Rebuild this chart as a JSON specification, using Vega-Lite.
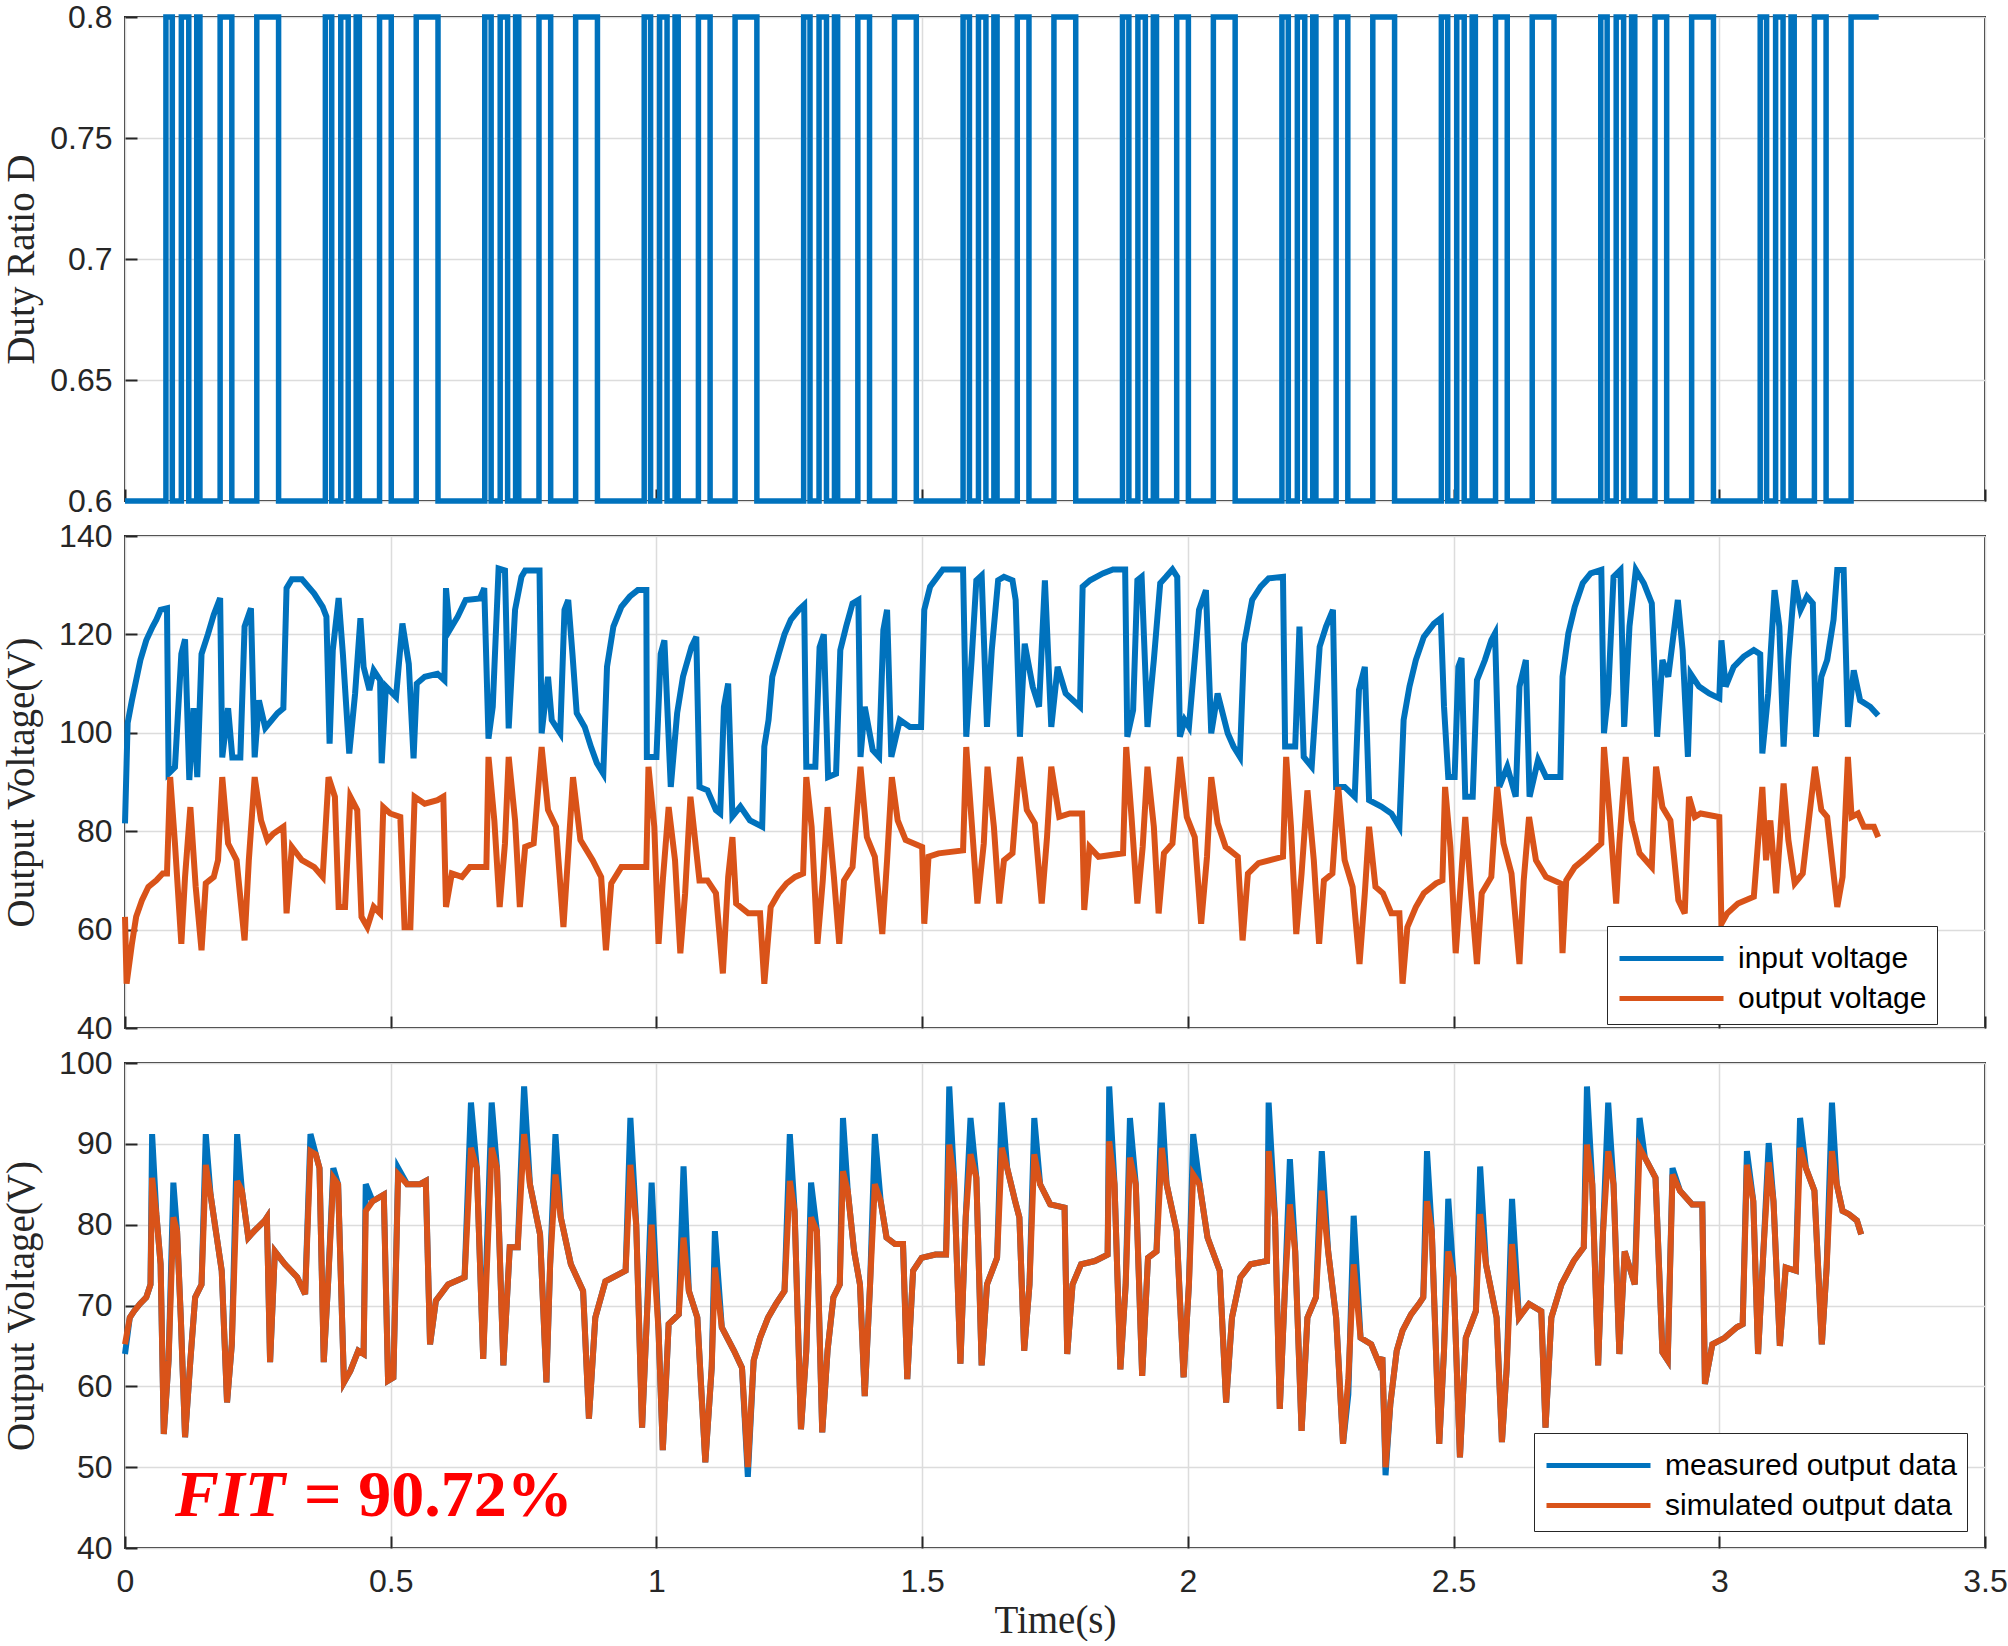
{
  "$schema": "https://vega.github.io/schema/vega-lite/v6.json",
  "background": "white",
  "padding": {"left": 0, "top": 0, "right": 20, "bottom": 0},
  "spacing": 35,
  "bounds": "flush",
  "config": {
    "view": {"stroke": "#262626", "strokeWidth": 2},
    "axis": {
      "labelFont": "Liberation Sans",
      "labelFontSize": 32,
      "labelColor": "#262626",
      "labelFlush": false,
      "titleFont": "Liberation Serif",
      "titleFontSize": 39,
      "titleFontWeight": "normal",
      "titleColor": "#262626",
      "gridColor": "#dcdcdc",
      "gridWidth": 1.5,
      "domain": false,
      "tickColor": "#262626",
      "tickSize": -12,
      "tickWidth": 2
    },
    "legend": {
      "labelFont": "Liberation Sans",
      "labelFontSize": 30,
      "labelColor": "#000000",
      "labelLimit": 0,
      "symbolType": "M-1,0H4.2",
      "symbolSize": 1600,
      "symbolStrokeWidth": 5,
      "strokeColor": "#262626",
      "fillColor": "white",
      "padding": 10,
      "rowPadding": 2,
      "labelOffset": 76
    }
  },
  "datasets": {
    "duty": [
      {"t": 0, "d": 0.6},
      {"t": 0.077, "d": 0.8}, {"t": 0.089, "d": 0.6}, {"t": 0.106, "d": 0.8}, {"t": 0.12, "d": 0.6}, {"t": 0.135, "d": 0.8}, {"t": 0.141, "d": 0.6}, {"t": 0.179, "d": 0.8}, {"t": 0.201, "d": 0.6}, {"t": 0.248, "d": 0.8}, {"t": 0.289, "d": 0.6},
      {"t": 0.377, "d": 0.8}, {"t": 0.389, "d": 0.6}, {"t": 0.406, "d": 0.8}, {"t": 0.42, "d": 0.6}, {"t": 0.435, "d": 0.8}, {"t": 0.441, "d": 0.6}, {"t": 0.479, "d": 0.8}, {"t": 0.501, "d": 0.6}, {"t": 0.548, "d": 0.8}, {"t": 0.589, "d": 0.6},
      {"t": 0.677, "d": 0.8}, {"t": 0.689, "d": 0.6}, {"t": 0.706, "d": 0.8}, {"t": 0.72, "d": 0.6}, {"t": 0.735, "d": 0.8}, {"t": 0.741, "d": 0.6}, {"t": 0.779, "d": 0.8}, {"t": 0.801, "d": 0.6}, {"t": 0.848, "d": 0.8}, {"t": 0.889, "d": 0.6},
      {"t": 0.977, "d": 0.8}, {"t": 0.989, "d": 0.6}, {"t": 1.006, "d": 0.8}, {"t": 1.02, "d": 0.6}, {"t": 1.035, "d": 0.8}, {"t": 1.041, "d": 0.6}, {"t": 1.079, "d": 0.8}, {"t": 1.101, "d": 0.6}, {"t": 1.148, "d": 0.8}, {"t": 1.189, "d": 0.6},
      {"t": 1.277, "d": 0.8}, {"t": 1.289, "d": 0.6}, {"t": 1.306, "d": 0.8}, {"t": 1.32, "d": 0.6}, {"t": 1.335, "d": 0.8}, {"t": 1.341, "d": 0.6}, {"t": 1.379, "d": 0.8}, {"t": 1.401, "d": 0.6}, {"t": 1.448, "d": 0.8}, {"t": 1.489, "d": 0.6},
      {"t": 1.577, "d": 0.8}, {"t": 1.589, "d": 0.6}, {"t": 1.606, "d": 0.8}, {"t": 1.62, "d": 0.6}, {"t": 1.635, "d": 0.8}, {"t": 1.641, "d": 0.6}, {"t": 1.679, "d": 0.8}, {"t": 1.701, "d": 0.6}, {"t": 1.748, "d": 0.8}, {"t": 1.789, "d": 0.6},
      {"t": 1.877, "d": 0.8}, {"t": 1.889, "d": 0.6}, {"t": 1.906, "d": 0.8}, {"t": 1.92, "d": 0.6}, {"t": 1.935, "d": 0.8}, {"t": 1.941, "d": 0.6}, {"t": 1.979, "d": 0.8}, {"t": 2.001, "d": 0.6}, {"t": 2.048, "d": 0.8}, {"t": 2.089, "d": 0.6},
      {"t": 2.177, "d": 0.8}, {"t": 2.189, "d": 0.6}, {"t": 2.206, "d": 0.8}, {"t": 2.22, "d": 0.6}, {"t": 2.235, "d": 0.8}, {"t": 2.241, "d": 0.6}, {"t": 2.279, "d": 0.8}, {"t": 2.301, "d": 0.6}, {"t": 2.348, "d": 0.8}, {"t": 2.389, "d": 0.6},
      {"t": 2.477, "d": 0.8}, {"t": 2.489, "d": 0.6}, {"t": 2.506, "d": 0.8}, {"t": 2.52, "d": 0.6}, {"t": 2.535, "d": 0.8}, {"t": 2.541, "d": 0.6}, {"t": 2.579, "d": 0.8}, {"t": 2.601, "d": 0.6}, {"t": 2.648, "d": 0.8}, {"t": 2.689, "d": 0.6},
      {"t": 2.777, "d": 0.8}, {"t": 2.789, "d": 0.6}, {"t": 2.806, "d": 0.8}, {"t": 2.82, "d": 0.6}, {"t": 2.835, "d": 0.8}, {"t": 2.841, "d": 0.6}, {"t": 2.879, "d": 0.8}, {"t": 2.901, "d": 0.6}, {"t": 2.948, "d": 0.8}, {"t": 2.989, "d": 0.6},
      {"t": 3.077, "d": 0.8}, {"t": 3.089, "d": 0.6}, {"t": 3.106, "d": 0.8}, {"t": 3.12, "d": 0.6}, {"t": 3.135, "d": 0.8}, {"t": 3.141, "d": 0.6}, {"t": 3.179, "d": 0.8}, {"t": 3.201, "d": 0.6}, {"t": 3.248, "d": 0.8}, {"t": 3.3, "d": 0.8}
    ],
    "vin": [
      {"t": 0, "v": 81.6}, {"t": 0.005, "v": 102}, {"t": 0.013, "v": 106.6}, {"t": 0.021, "v": 110.7}, {"t": 0.029, "v": 114.8}, {"t": 0.04, "v": 118.8}, {"t": 0.052, "v": 121.6}, {"t": 0.059, "v": 123}, {"t": 0.067, "v": 125}, {"t": 0.079, "v": 125.3},
      {"t": 0.082, "v": 91.7}, {"t": 0.094, "v": 93}, {"t": 0.106, "v": 116}, {"t": 0.113, "v": 119}, {"t": 0.121, "v": 90.4}, {"t": 0.129, "v": 105}, {"t": 0.136, "v": 91}, {"t": 0.144, "v": 116}, {"t": 0.156, "v": 120}, {"t": 0.167, "v": 124},
      {"t": 0.179, "v": 127.4}, {"t": 0.183, "v": 95}, {"t": 0.194, "v": 105}, {"t": 0.202, "v": 95}, {"t": 0.217, "v": 95}, {"t": 0.225, "v": 121.6}, {"t": 0.237, "v": 125.3}, {"t": 0.244, "v": 95}, {"t": 0.252, "v": 106.6}, {"t": 0.264, "v": 101},
      {"t": 0.287, "v": 104}, {"t": 0.298, "v": 105}, {"t": 0.304, "v": 129.4}, {"t": 0.314, "v": 131.2}, {"t": 0.333, "v": 131.2}, {"t": 0.356, "v": 128.3}, {"t": 0.372, "v": 125.6}, {"t": 0.379, "v": 123.6}, {"t": 0.385, "v": 97.8}, {"t": 0.391, "v": 116.8},
      {"t": 0.402, "v": 127.4}, {"t": 0.41, "v": 116}, {"t": 0.422, "v": 95.8}, {"t": 0.433, "v": 108}, {"t": 0.443, "v": 123.3}, {"t": 0.449, "v": 113.4}, {"t": 0.46, "v": 108.7}, {"t": 0.468, "v": 112.7}, {"t": 0.48, "v": 110.7}, {"t": 0.483, "v": 93.8},
      {"t": 0.491, "v": 109.4}, {"t": 0.51, "v": 107.3}, {"t": 0.522, "v": 122.2}, {"t": 0.534, "v": 114}, {"t": 0.543, "v": 94.8}, {"t": 0.549, "v": 110}, {"t": 0.564, "v": 111.4}, {"t": 0.588, "v": 112}, {"t": 0.601, "v": 110.7}, {"t": 0.604, "v": 129.4},
      {"t": 0.611, "v": 120.9}, {"t": 0.626, "v": 123.6}, {"t": 0.641, "v": 127}, {"t": 0.668, "v": 127.3}, {"t": 0.676, "v": 129.4}, {"t": 0.684, "v": 98.8}, {"t": 0.692, "v": 105.3}, {"t": 0.703, "v": 133.4}, {"t": 0.715, "v": 133}, {"t": 0.722, "v": 100.9},
      {"t": 0.734, "v": 125}, {"t": 0.746, "v": 131.7}, {"t": 0.753, "v": 133}, {"t": 0.78, "v": 133}, {"t": 0.784, "v": 99.9}, {"t": 0.796, "v": 111.4}, {"t": 0.803, "v": 102.6}, {"t": 0.819, "v": 99.9}, {"t": 0.827, "v": 125}, {"t": 0.834, "v": 127},
      {"t": 0.842, "v": 116}, {"t": 0.85, "v": 104}, {"t": 0.865, "v": 101.2}, {"t": 0.877, "v": 97.1}, {"t": 0.888, "v": 93.8}, {"t": 0.9, "v": 91.7}, {"t": 0.907, "v": 113.4}, {"t": 0.919, "v": 121.6}, {"t": 0.934, "v": 125.6}, {"t": 0.95, "v": 127.7},
      {"t": 0.965, "v": 129}, {"t": 0.981, "v": 129}, {"t": 0.982, "v": 95.1}, {"t": 1.0, "v": 95.1}, {"t": 1.008, "v": 116}, {"t": 1.015, "v": 118.8}, {"t": 1.027, "v": 89}, {"t": 1.039, "v": 104}, {"t": 1.05, "v": 111.4}, {"t": 1.066, "v": 117.5},
      {"t": 1.075, "v": 119.5}, {"t": 1.081, "v": 89}, {"t": 1.096, "v": 88.3}, {"t": 1.112, "v": 84.3}, {"t": 1.12, "v": 83.6}, {"t": 1.127, "v": 105.3}, {"t": 1.135, "v": 110}, {"t": 1.143, "v": 83}, {"t": 1.158, "v": 85},
      {"t": 1.176, "v": 82.2}, {"t": 1.199, "v": 80.9}, {"t": 1.203, "v": 97.2}, {"t": 1.211, "v": 102.6}, {"t": 1.218, "v": 111.4}, {"t": 1.23, "v": 116}, {"t": 1.241, "v": 120}, {"t": 1.253, "v": 123}, {"t": 1.268, "v": 125}, {"t": 1.278, "v": 126},
      {"t": 1.282, "v": 93.1}, {"t": 1.299, "v": 93.1}, {"t": 1.307, "v": 117.4}, {"t": 1.315, "v": 120}, {"t": 1.323, "v": 91}, {"t": 1.338, "v": 91.7}, {"t": 1.346, "v": 116.8}, {"t": 1.357, "v": 121.6}, {"t": 1.369, "v": 126.3}, {"t": 1.38, "v": 127},
      {"t": 1.384, "v": 95.1}, {"t": 1.392, "v": 105.3}, {"t": 1.407, "v": 96.5}, {"t": 1.419, "v": 95.1}, {"t": 1.427, "v": 120.9}, {"t": 1.434, "v": 125}, {"t": 1.442, "v": 95.1}, {"t": 1.458, "v": 102.6}, {"t": 1.477, "v": 101.2}, {"t": 1.498, "v": 101.2},
      {"t": 1.504, "v": 125}, {"t": 1.515, "v": 129.7}, {"t": 1.539, "v": 133.2}, {"t": 1.577, "v": 133.2}, {"t": 1.583, "v": 99.2}, {"t": 1.593, "v": 114.8}, {"t": 1.602, "v": 131}, {"t": 1.612, "v": 132}, {"t": 1.622, "v": 101.2}, {"t": 1.631, "v": 116.8},
      {"t": 1.643, "v": 131}, {"t": 1.654, "v": 131.7}, {"t": 1.67, "v": 131}, {"t": 1.676, "v": 127}, {"t": 1.684, "v": 99.2}, {"t": 1.693, "v": 118.1}, {"t": 1.708, "v": 109.4}, {"t": 1.72, "v": 105.3}, {"t": 1.724, "v": 114.8}, {"t": 1.731, "v": 131},
      {"t": 1.743, "v": 101.2}, {"t": 1.755, "v": 113.4}, {"t": 1.77, "v": 108}, {"t": 1.797, "v": 105.3}, {"t": 1.802, "v": 129.7}, {"t": 1.816, "v": 131}, {"t": 1.84, "v": 132.4}, {"t": 1.859, "v": 133.2}, {"t": 1.882, "v": 133.2}, {"t": 1.886, "v": 99.2},
      {"t": 1.897, "v": 104.6}, {"t": 1.905, "v": 131}, {"t": 1.913, "v": 131.7}, {"t": 1.924, "v": 101.2}, {"t": 1.936, "v": 114.8}, {"t": 1.948, "v": 130.4}, {"t": 1.959, "v": 131.7}, {"t": 1.971, "v": 133.2}, {"t": 1.98, "v": 131.7}, {"t": 1.985, "v": 99.2},
      {"t": 1.994, "v": 102.6}, {"t": 2.002, "v": 101.2}, {"t": 2.021, "v": 125}, {"t": 2.034, "v": 129}, {"t": 2.044, "v": 99.9}, {"t": 2.056, "v": 108}, {"t": 2.075, "v": 99.9}, {"t": 2.086, "v": 97.2}, {"t": 2.098, "v": 95.1}, {"t": 2.106, "v": 118.1},
      {"t": 2.121, "v": 127}, {"t": 2.137, "v": 129.7}, {"t": 2.152, "v": 131.4}, {"t": 2.179, "v": 131.7}, {"t": 2.183, "v": 97.2}, {"t": 2.202, "v": 97.2}, {"t": 2.21, "v": 121.6}, {"t": 2.218, "v": 95.1}, {"t": 2.233, "v": 93.1}, {"t": 2.248, "v": 117.5},
      {"t": 2.26, "v": 121.6}, {"t": 2.273, "v": 125}, {"t": 2.279, "v": 89}, {"t": 2.295, "v": 89}, {"t": 2.314, "v": 87}, {"t": 2.322, "v": 108.7}, {"t": 2.333, "v": 113.4}, {"t": 2.341, "v": 86.3}, {"t": 2.364, "v": 85},
      {"t": 2.383, "v": 83.6}, {"t": 2.398, "v": 80.9}, {"t": 2.406, "v": 102.6}, {"t": 2.417, "v": 109.4}, {"t": 2.429, "v": 114.8}, {"t": 2.444, "v": 119.5}, {"t": 2.463, "v": 122.2}, {"t": 2.476, "v": 123.3}, {"t": 2.482, "v": 105.3}, {"t": 2.49, "v": 91},
      {"t": 2.502, "v": 91}, {"t": 2.509, "v": 113.4}, {"t": 2.515, "v": 115.2}, {"t": 2.522, "v": 87}, {"t": 2.536, "v": 87}, {"t": 2.544, "v": 110.7}, {"t": 2.559, "v": 114.8}, {"t": 2.571, "v": 118.8}, {"t": 2.578, "v": 120.2}, {"t": 2.586, "v": 89},
      {"t": 2.601, "v": 93.1}, {"t": 2.617, "v": 87}, {"t": 2.624, "v": 109.4}, {"t": 2.636, "v": 114.8}, {"t": 2.643, "v": 87}, {"t": 2.659, "v": 94.5}, {"t": 2.674, "v": 91}, {"t": 2.701, "v": 91}, {"t": 2.705, "v": 111.4}, {"t": 2.716, "v": 120.2},
      {"t": 2.728, "v": 125.6}, {"t": 2.743, "v": 130.4}, {"t": 2.758, "v": 132.4}, {"t": 2.778, "v": 133.1}, {"t": 2.783, "v": 99.9}, {"t": 2.791, "v": 108}, {"t": 2.801, "v": 131.7}, {"t": 2.814, "v": 133.1}, {"t": 2.821, "v": 101.2}, {"t": 2.831, "v": 121.6},
      {"t": 2.843, "v": 133.1}, {"t": 2.858, "v": 130.4}, {"t": 2.873, "v": 126.3}, {"t": 2.883, "v": 99.2}, {"t": 2.893, "v": 114.8}, {"t": 2.904, "v": 111.4}, {"t": 2.922, "v": 127}, {"t": 2.931, "v": 116.8}, {"t": 2.941, "v": 95.1}, {"t": 2.946, "v": 112},
      {"t": 2.962, "v": 109.4}, {"t": 2.981, "v": 108}, {"t": 3.0, "v": 107}, {"t": 3.004, "v": 118.8}, {"t": 3.012, "v": 109.4}, {"t": 3.027, "v": 113.4}, {"t": 3.046, "v": 115.5}, {"t": 3.065, "v": 116.8}, {"t": 3.077, "v": 116}, {"t": 3.081, "v": 95.8},
      {"t": 3.092, "v": 108}, {"t": 3.104, "v": 129}, {"t": 3.113, "v": 121.6}, {"t": 3.121, "v": 97.2}, {"t": 3.13, "v": 114.8}, {"t": 3.142, "v": 131}, {"t": 3.153, "v": 125}, {"t": 3.165, "v": 127.7}, {"t": 3.176, "v": 126.3}, {"t": 3.182, "v": 99.2},
      {"t": 3.192, "v": 111.4}, {"t": 3.203, "v": 114.8}, {"t": 3.215, "v": 123}, {"t": 3.222, "v": 133.1}, {"t": 3.234, "v": 133.1}, {"t": 3.242, "v": 101.2}, {"t": 3.253, "v": 112.7}, {"t": 3.265, "v": 106.6}, {"t": 3.284, "v": 105.3}, {"t": 3.299, "v": 103.5}
    ],
    "vout": [
      {"t": 0, "v": 62.6}, {"t": 0.003, "v": 49}, {"t": 0.013, "v": 57.1}, {"t": 0.021, "v": 62.6}, {"t": 0.032, "v": 66}, {"t": 0.044, "v": 68.7}, {"t": 0.059, "v": 70}, {"t": 0.071, "v": 71.4}, {"t": 0.079, "v": 71.4}, {"t": 0.085, "v": 91},
      {"t": 0.094, "v": 77.5}, {"t": 0.106, "v": 57.1}, {"t": 0.113, "v": 70.7}, {"t": 0.123, "v": 84.9}, {"t": 0.133, "v": 68.7}, {"t": 0.144, "v": 55.8}, {"t": 0.152, "v": 69.4}, {"t": 0.167, "v": 70.7}, {"t": 0.175, "v": 74.1}, {"t": 0.183, "v": 91},
      {"t": 0.194, "v": 77.5}, {"t": 0.21, "v": 74.1}, {"t": 0.225, "v": 57.8}, {"t": 0.233, "v": 74.1}, {"t": 0.244, "v": 91}, {"t": 0.256, "v": 82.2}, {"t": 0.268, "v": 78.2}, {"t": 0.279, "v": 79.5}, {"t": 0.298, "v": 80.9}, {"t": 0.304, "v": 63.3},
      {"t": 0.314, "v": 76.8}, {"t": 0.333, "v": 74.1}, {"t": 0.356, "v": 72.7}, {"t": 0.372, "v": 70.7}, {"t": 0.383, "v": 91}, {"t": 0.395, "v": 87}, {"t": 0.402, "v": 64.6}, {"t": 0.414, "v": 64.6}, {"t": 0.424, "v": 87}, {"t": 0.437, "v": 84.3},
      {"t": 0.445, "v": 62.6}, {"t": 0.456, "v": 60.5}, {"t": 0.468, "v": 64.6}, {"t": 0.48, "v": 63.3}, {"t": 0.486, "v": 84.9}, {"t": 0.499, "v": 83.6}, {"t": 0.518, "v": 82.9}, {"t": 0.526, "v": 60.5}, {"t": 0.537, "v": 60.5}, {"t": 0.545, "v": 87},
      {"t": 0.564, "v": 85.6}, {"t": 0.588, "v": 86.3}, {"t": 0.599, "v": 87}, {"t": 0.604, "v": 64.6}, {"t": 0.615, "v": 71.4}, {"t": 0.634, "v": 70.7}, {"t": 0.649, "v": 72.7}, {"t": 0.68, "v": 72.7}, {"t": 0.684, "v": 95.1}, {"t": 0.695, "v": 82.2},
      {"t": 0.705, "v": 64.6}, {"t": 0.715, "v": 77.5}, {"t": 0.722, "v": 95.1}, {"t": 0.734, "v": 82.2}, {"t": 0.743, "v": 64.6}, {"t": 0.753, "v": 76.8}, {"t": 0.769, "v": 77.5}, {"t": 0.784, "v": 97.1}, {"t": 0.796, "v": 84.3}, {"t": 0.811, "v": 80.9},
      {"t": 0.825, "v": 60.5}, {"t": 0.834, "v": 75.5}, {"t": 0.843, "v": 91}, {"t": 0.857, "v": 78.2}, {"t": 0.88, "v": 74.1}, {"t": 0.896, "v": 70.7}, {"t": 0.905, "v": 55.8}, {"t": 0.915, "v": 69.4}, {"t": 0.934, "v": 72.7}, {"t": 0.981, "v": 72.7},
      {"t": 0.985, "v": 93.1}, {"t": 0.996, "v": 80.9}, {"t": 1.004, "v": 57.1}, {"t": 1.012, "v": 70}, {"t": 1.023, "v": 84.9}, {"t": 1.035, "v": 74.1}, {"t": 1.045, "v": 55.2}, {"t": 1.054, "v": 67.4}, {"t": 1.064, "v": 87}, {"t": 1.081, "v": 70},
      {"t": 1.096, "v": 70}, {"t": 1.112, "v": 67.4}, {"t": 1.125, "v": 51.1}, {"t": 1.135, "v": 70.7}, {"t": 1.143, "v": 78.8}, {"t": 1.15, "v": 65.3}, {"t": 1.173, "v": 63.3},
      {"t": 1.195, "v": 63.3}, {"t": 1.203, "v": 49}, {"t": 1.215, "v": 64.6}, {"t": 1.23, "v": 67.4}, {"t": 1.245, "v": 69.4}, {"t": 1.261, "v": 70.7}, {"t": 1.276, "v": 71.4}, {"t": 1.282, "v": 91}, {"t": 1.292, "v": 80.9}, {"t": 1.303, "v": 57.1},
      {"t": 1.313, "v": 70}, {"t": 1.322, "v": 84.9}, {"t": 1.334, "v": 70.7}, {"t": 1.344, "v": 57.1}, {"t": 1.353, "v": 70}, {"t": 1.369, "v": 72.7}, {"t": 1.384, "v": 93.1}, {"t": 1.396, "v": 78.8}, {"t": 1.411, "v": 74.8}, {"t": 1.425, "v": 59.1},
      {"t": 1.434, "v": 74.1}, {"t": 1.443, "v": 91}, {"t": 1.454, "v": 82.2}, {"t": 1.469, "v": 78.2}, {"t": 1.5, "v": 76.8}, {"t": 1.504, "v": 61.2}, {"t": 1.512, "v": 74.8}, {"t": 1.531, "v": 75.5}, {"t": 1.577, "v": 76.1}, {"t": 1.583, "v": 97.1},
      {"t": 1.593, "v": 82.2}, {"t": 1.604, "v": 65.3}, {"t": 1.616, "v": 77.5}, {"t": 1.623, "v": 93.1}, {"t": 1.635, "v": 80.9}, {"t": 1.645, "v": 65.3}, {"t": 1.654, "v": 74.1}, {"t": 1.67, "v": 75.5}, {"t": 1.684, "v": 95.1}, {"t": 1.697, "v": 84.3},
      {"t": 1.712, "v": 81.6}, {"t": 1.725, "v": 65.3}, {"t": 1.735, "v": 78.8}, {"t": 1.743, "v": 93.1}, {"t": 1.758, "v": 82.9}, {"t": 1.778, "v": 83.6}, {"t": 1.801, "v": 83.6}, {"t": 1.805, "v": 64}, {"t": 1.815, "v": 76.8}, {"t": 1.832, "v": 74.8},
      {"t": 1.878, "v": 75.5}, {"t": 1.884, "v": 97.1}, {"t": 1.894, "v": 82.9}, {"t": 1.905, "v": 65.3}, {"t": 1.915, "v": 76.8}, {"t": 1.924, "v": 93.1}, {"t": 1.936, "v": 80.9}, {"t": 1.945, "v": 63.3}, {"t": 1.955, "v": 75.5}, {"t": 1.971, "v": 77.5},
      {"t": 1.985, "v": 95.1}, {"t": 1.998, "v": 82.9}, {"t": 2.013, "v": 78.8}, {"t": 2.025, "v": 61.2}, {"t": 2.036, "v": 74.8}, {"t": 2.044, "v": 91}, {"t": 2.056, "v": 81.6}, {"t": 2.071, "v": 76.8}, {"t": 2.094, "v": 74.8}, {"t": 2.103, "v": 57.8},
      {"t": 2.113, "v": 71.4}, {"t": 2.133, "v": 73.5}, {"t": 2.179, "v": 74.8}, {"t": 2.185, "v": 95.1}, {"t": 2.194, "v": 80.9}, {"t": 2.204, "v": 59.1}, {"t": 2.214, "v": 71.4}, {"t": 2.225, "v": 88.3}, {"t": 2.237, "v": 74.1}, {"t": 2.247, "v": 57.1},
      {"t": 2.256, "v": 70}, {"t": 2.272, "v": 71.4}, {"t": 2.283, "v": 89}, {"t": 2.295, "v": 74.1}, {"t": 2.31, "v": 68.7}, {"t": 2.323, "v": 53}, {"t": 2.333, "v": 67.4}, {"t": 2.341, "v": 80.9}, {"t": 2.353, "v": 68.7},
      {"t": 2.367, "v": 67.4}, {"t": 2.383, "v": 63.3}, {"t": 2.398, "v": 63.3}, {"t": 2.404, "v": 49}, {"t": 2.413, "v": 60.5}, {"t": 2.429, "v": 64.6}, {"t": 2.444, "v": 67.4}, {"t": 2.467, "v": 69.4}, {"t": 2.479, "v": 70}, {"t": 2.484, "v": 89},
      {"t": 2.494, "v": 76.8}, {"t": 2.504, "v": 55.2}, {"t": 2.513, "v": 68.7}, {"t": 2.522, "v": 82.9}, {"t": 2.532, "v": 68.7}, {"t": 2.544, "v": 53}, {"t": 2.553, "v": 67.4}, {"t": 2.571, "v": 70.7}, {"t": 2.582, "v": 89}, {"t": 2.594, "v": 77.5},
      {"t": 2.609, "v": 71.4}, {"t": 2.624, "v": 53}, {"t": 2.632, "v": 70}, {"t": 2.642, "v": 82.9}, {"t": 2.655, "v": 74.1}, {"t": 2.674, "v": 70.7}, {"t": 2.701, "v": 69.4}, {"t": 2.705, "v": 55.2}, {"t": 2.712, "v": 70}, {"t": 2.728, "v": 72.7},
      {"t": 2.751, "v": 74.8}, {"t": 2.778, "v": 77.5}, {"t": 2.783, "v": 97.1}, {"t": 2.793, "v": 84.3}, {"t": 2.806, "v": 65.3}, {"t": 2.812, "v": 77.5}, {"t": 2.824, "v": 95.1}, {"t": 2.835, "v": 82.2}, {"t": 2.85, "v": 75.5}, {"t": 2.873, "v": 72.7},
      {"t": 2.881, "v": 93.1}, {"t": 2.893, "v": 84.9}, {"t": 2.908, "v": 82.2}, {"t": 2.923, "v": 66}, {"t": 2.935, "v": 63.3}, {"t": 2.943, "v": 87}, {"t": 2.954, "v": 82.9}, {"t": 2.965, "v": 83.6}, {"t": 3.0, "v": 82.9}, {"t": 3.004, "v": 61.2},
      {"t": 3.015, "v": 63.3}, {"t": 3.035, "v": 65.3}, {"t": 3.065, "v": 66.7}, {"t": 3.081, "v": 89}, {"t": 3.088, "v": 74.1}, {"t": 3.096, "v": 82.2}, {"t": 3.107, "v": 67.4}, {"t": 3.121, "v": 89.7}, {"t": 3.13, "v": 78.2}, {"t": 3.142, "v": 69.4},
      {"t": 3.157, "v": 71.4}, {"t": 3.18, "v": 93.1}, {"t": 3.192, "v": 84.3}, {"t": 3.203, "v": 82.9}, {"t": 3.222, "v": 64.6}, {"t": 3.232, "v": 70.7}, {"t": 3.242, "v": 95.1}, {"t": 3.249, "v": 82.9}, {"t": 3.261, "v": 83.6}, {"t": 3.272, "v": 80.9},
      {"t": 3.291, "v": 80.9}, {"t": 3.299, "v": 78.8}
    ],
    "fit": [
      {"t": 0, "m": 64, "s": 65.2}, {"t": 0.009, "m": 68.5, "s": 68.5}, {"t": 0.017, "m": 69.3, "s": 69.3}, {"t": 0.028, "m": 70.2, "s": 70.2}, {"t": 0.04, "m": 71, "s": 71}, {"t": 0.048, "m": 72.6, "s": 72.6}, {"t": 0.051, "m": 91.2, "s": 85.8}, {"t": 0.059, "m": 81.3, "s": 81.3},
      {"t": 0.067, "m": 75.1, "s": 75.1}, {"t": 0.073, "m": 54.1, "s": 54.1}, {"t": 0.082, "m": 63.2, "s": 63.2}, {"t": 0.091, "m": 85.2, "s": 80.9}, {"t": 0.098, "m": 79.2, "s": 79.2}, {"t": 0.105, "m": 68.5, "s": 68.5}, {"t": 0.113, "m": 53.7, "s": 53.7}, {"t": 0.123, "m": 63.2, "s": 63.2},
      {"t": 0.132, "m": 71, "s": 71}, {"t": 0.144, "m": 72.6, "s": 72.6}, {"t": 0.152, "m": 91.2, "s": 87.4}, {"t": 0.161, "m": 83.7, "s": 83.7}, {"t": 0.171, "m": 79.2, "s": 79.2}, {"t": 0.182, "m": 74.3, "s": 74.3}, {"t": 0.192, "m": 58, "s": 58}, {"t": 0.201, "m": 65.2, "s": 65.2},
      {"t": 0.211, "m": 91.2, "s": 85.4}, {"t": 0.22, "m": 84.2, "s": 84.2}, {"t": 0.232, "m": 78.4, "s": 78.4}, {"t": 0.243, "m": 79.2, "s": 79.2}, {"t": 0.263, "m": 80.5, "s": 80.5}, {"t": 0.267, "m": 80.9, "s": 80.9}, {"t": 0.273, "m": 63, "s": 63}, {"t": 0.282, "m": 76.7, "s": 76.7},
      {"t": 0.301, "m": 75.1, "s": 75.1}, {"t": 0.324, "m": 73.5, "s": 73.5}, {"t": 0.339, "m": 71.4, "s": 71.4}, {"t": 0.349, "m": 91.2, "s": 89.1}, {"t": 0.359, "m": 88.7, "s": 88.7}, {"t": 0.366, "m": 87, "s": 87}, {"t": 0.374, "m": 63, "s": 63}, {"t": 0.382, "m": 72.6, "s": 72.6},
      {"t": 0.392, "m": 87, "s": 85.8}, {"t": 0.401, "m": 85, "s": 85}, {"t": 0.412, "m": 60.5, "s": 60.5}, {"t": 0.424, "m": 61.9, "s": 61.9}, {"t": 0.439, "m": 64.4, "s": 64.4}, {"t": 0.449, "m": 64, "s": 64}, {"t": 0.453, "m": 85, "s": 81.7}, {"t": 0.466, "m": 82.9, "s": 82.9},
      {"t": 0.487, "m": 83.7, "s": 83.7}, {"t": 0.495, "m": 60.7, "s": 60.7}, {"t": 0.505, "m": 61.1, "s": 61.1}, {"t": 0.514, "m": 87, "s": 86.2}, {"t": 0.531, "m": 85, "s": 85}, {"t": 0.555, "m": 85, "s": 85}, {"t": 0.566, "m": 85.4, "s": 85.4}, {"t": 0.574, "m": 65.2, "s": 65.2},
      {"t": 0.585, "m": 70.6, "s": 70.6}, {"t": 0.608, "m": 72.6, "s": 72.6}, {"t": 0.639, "m": 73.5, "s": 73.5}, {"t": 0.651, "m": 95.1, "s": 89.5}, {"t": 0.662, "m": 87, "s": 87}, {"t": 0.674, "m": 63.4, "s": 63.4}, {"t": 0.69, "m": 95.1, "s": 89.5}, {"t": 0.7, "m": 87, "s": 87},
      {"t": 0.712, "m": 62.6, "s": 62.6}, {"t": 0.724, "m": 77.2, "s": 77.2}, {"t": 0.739, "m": 77.2, "s": 77.2}, {"t": 0.751, "m": 97.1, "s": 91.2}, {"t": 0.762, "m": 85, "s": 85}, {"t": 0.781, "m": 78.8, "s": 78.8}, {"t": 0.793, "m": 60.5, "s": 60.5}, {"t": 0.8, "m": 75.1, "s": 75.1},
      {"t": 0.81, "m": 91.2, "s": 86.2}, {"t": 0.82, "m": 80.9, "s": 80.9}, {"t": 0.839, "m": 75.1, "s": 75.1}, {"t": 0.862, "m": 71.8, "s": 71.8}, {"t": 0.873, "m": 56, "s": 56}, {"t": 0.885, "m": 68.5, "s": 68.5}, {"t": 0.904, "m": 73, "s": 73}, {"t": 0.942, "m": 74.3, "s": 74.3},
      {"t": 0.951, "m": 93.2, "s": 87.4}, {"t": 0.962, "m": 80, "s": 80}, {"t": 0.973, "m": 54.9, "s": 54.9}, {"t": 0.982, "m": 68.5, "s": 68.5}, {"t": 0.991, "m": 85.2, "s": 80}, {"t": 1.004, "m": 66.9, "s": 66.9}, {"t": 1.012, "m": 52.1, "s": 52.1}, {"t": 1.023, "m": 67.7, "s": 67.7},
      {"t": 1.042, "m": 68.9, "s": 68.9}, {"t": 1.051, "m": 87.2, "s": 78.4}, {"t": 1.061, "m": 71.8, "s": 71.8}, {"t": 1.077, "m": 68.5, "s": 68.5}, {"t": 1.092, "m": 50.6, "s": 50.6}, {"t": 1.104, "m": 62.3, "s": 62.3}, {"t": 1.11, "m": 79.2, "s": 74.7}, {"t": 1.123, "m": 67.3, "s": 67.3},
      {"t": 1.146, "m": 64.4, "s": 64.4}, {"t": 1.161, "m": 62.3, "s": 62.3}, {"t": 1.172, "m": 48.8, "s": 50}, {"t": 1.183, "m": 63.2, "s": 63.2}, {"t": 1.195, "m": 66, "s": 66}, {"t": 1.21, "m": 68.5, "s": 68.5}, {"t": 1.225, "m": 70.2, "s": 70.2}, {"t": 1.241, "m": 71.8, "s": 71.8},
      {"t": 1.251, "m": 91.2, "s": 85.4}, {"t": 1.26, "m": 81.7, "s": 81.7}, {"t": 1.272, "m": 54.7, "s": 54.7}, {"t": 1.282, "m": 64.4, "s": 64.4}, {"t": 1.291, "m": 85.2, "s": 80.9}, {"t": 1.302, "m": 79.2, "s": 79.2}, {"t": 1.312, "m": 54.3, "s": 54.3}, {"t": 1.322, "m": 64.4, "s": 64.4},
      {"t": 1.333, "m": 71, "s": 71}, {"t": 1.345, "m": 72.6, "s": 72.6}, {"t": 1.351, "m": 93.2, "s": 86.6}, {"t": 1.36, "m": 84.2, "s": 84.2}, {"t": 1.372, "m": 76.7, "s": 76.7}, {"t": 1.383, "m": 72.6, "s": 72.6}, {"t": 1.392, "m": 58.8, "s": 58.8}, {"t": 1.402, "m": 72.6, "s": 72.6},
      {"t": 1.411, "m": 91.2, "s": 85}, {"t": 1.422, "m": 82.9, "s": 82.9}, {"t": 1.433, "m": 78.4, "s": 78.4}, {"t": 1.449, "m": 77.6, "s": 77.6}, {"t": 1.464, "m": 77.6, "s": 77.6}, {"t": 1.472, "m": 60.9, "s": 60.9}, {"t": 1.483, "m": 74.3, "s": 74.3}, {"t": 1.499, "m": 75.9, "s": 75.9},
      {"t": 1.525, "m": 76.3, "s": 76.3}, {"t": 1.545, "m": 76.3, "s": 76.3}, {"t": 1.551, "m": 97.1, "s": 89.9}, {"t": 1.56, "m": 85.8, "s": 85.8}, {"t": 1.572, "m": 62.8, "s": 62.8}, {"t": 1.582, "m": 80.9, "s": 80.9}, {"t": 1.591, "m": 93.2, "s": 88.7}, {"t": 1.602, "m": 85.8, "s": 85.8},
      {"t": 1.612, "m": 62.6, "s": 62.6}, {"t": 1.622, "m": 72.6, "s": 72.6}, {"t": 1.641, "m": 75.9, "s": 75.9}, {"t": 1.65, "m": 95.1, "s": 89.5}, {"t": 1.66, "m": 87, "s": 87}, {"t": 1.675, "m": 82.9, "s": 82.9}, {"t": 1.683, "m": 80.9, "s": 80.9}, {"t": 1.692, "m": 64.4, "s": 64.4},
      {"t": 1.702, "m": 72.6, "s": 72.6}, {"t": 1.711, "m": 93.2, "s": 88.7}, {"t": 1.722, "m": 85, "s": 85}, {"t": 1.741, "m": 82.5, "s": 82.5}, {"t": 1.768, "m": 82.1, "s": 82.1}, {"t": 1.773, "m": 64, "s": 64}, {"t": 1.783, "m": 72.6, "s": 72.6}, {"t": 1.799, "m": 75.1, "s": 75.1},
      {"t": 1.825, "m": 75.5, "s": 75.5}, {"t": 1.849, "m": 76.3, "s": 76.3}, {"t": 1.852, "m": 97.1, "s": 90.3}, {"t": 1.862, "m": 85, "s": 85}, {"t": 1.873, "m": 62.1, "s": 62.1}, {"t": 1.883, "m": 72.6, "s": 72.6}, {"t": 1.891, "m": 93.2, "s": 88.3}, {"t": 1.902, "m": 85, "s": 85},
      {"t": 1.914, "m": 61.3, "s": 61.3}, {"t": 1.925, "m": 75.9, "s": 75.9}, {"t": 1.941, "m": 76.7, "s": 76.7}, {"t": 1.951, "m": 95.1, "s": 89.5}, {"t": 1.96, "m": 85, "s": 85}, {"t": 1.979, "m": 79.2, "s": 79.2}, {"t": 1.992, "m": 61.1, "s": 61.1}, {"t": 2.002, "m": 72.6, "s": 72.6},
      {"t": 2.01, "m": 91.2, "s": 86.2}, {"t": 2.022, "m": 85, "s": 85}, {"t": 2.037, "m": 78.4, "s": 78.4}, {"t": 2.06, "m": 74.3, "s": 74.3}, {"t": 2.072, "m": 58, "s": 58}, {"t": 2.083, "m": 68.5, "s": 68.5}, {"t": 2.099, "m": 73.5, "s": 73.5}, {"t": 2.118, "m": 75.1, "s": 75.1},
      {"t": 2.149, "m": 75.5, "s": 75.5}, {"t": 2.152, "m": 95.1, "s": 89.1}, {"t": 2.164, "m": 80.9, "s": 80.9}, {"t": 2.173, "m": 57.2, "s": 57.2}, {"t": 2.183, "m": 72.6, "s": 72.6}, {"t": 2.192, "m": 88.1, "s": 82.5}, {"t": 2.202, "m": 76.7, "s": 76.7}, {"t": 2.214, "m": 54.5, "s": 54.5},
      {"t": 2.225, "m": 68.5, "s": 68.5}, {"t": 2.241, "m": 71, "s": 71}, {"t": 2.252, "m": 89.1, "s": 84.2}, {"t": 2.264, "m": 76.7, "s": 76.7}, {"t": 2.279, "m": 68.5, "s": 68.5}, {"t": 2.292, "m": 52.9, "s": 52.9}, {"t": 2.302, "m": 59, "s": 61}, {"t": 2.312, "m": 81.1, "s": 75.1},
      {"t": 2.325, "m": 66, "s": 66}, {"t": 2.345, "m": 65.2, "s": 65.2}, {"t": 2.36, "m": 62.8, "s": 62.8}, {"t": 2.366, "m": 63.6, "s": 63.6}, {"t": 2.372, "m": 49, "s": 50}, {"t": 2.381, "m": 57.8, "s": 57.8}, {"t": 2.393, "m": 64.4, "s": 64.4}, {"t": 2.404, "m": 66.9, "s": 66.9},
      {"t": 2.42, "m": 68.9, "s": 68.9}, {"t": 2.435, "m": 70.2, "s": 70.2}, {"t": 2.443, "m": 71, "s": 71}, {"t": 2.45, "m": 89.1, "s": 82.9}, {"t": 2.459, "m": 79.2, "s": 79.2}, {"t": 2.473, "m": 52.9, "s": 52.9}, {"t": 2.482, "m": 64.4, "s": 64.4}, {"t": 2.49, "m": 83.2, "s": 76.7},
      {"t": 2.5, "m": 73.5, "s": 73.5}, {"t": 2.512, "m": 51.2, "s": 51.2}, {"t": 2.523, "m": 66, "s": 66}, {"t": 2.542, "m": 69.3, "s": 69.3}, {"t": 2.55, "m": 87.2, "s": 81.3}, {"t": 2.561, "m": 75.1, "s": 75.1}, {"t": 2.581, "m": 68.5, "s": 68.5}, {"t": 2.591, "m": 53.1, "s": 53.1},
      {"t": 2.6, "m": 62.3, "s": 62.3}, {"t": 2.61, "m": 83.2, "s": 77.6}, {"t": 2.623, "m": 68.5, "s": 68.5}, {"t": 2.642, "m": 70.2, "s": 70.2}, {"t": 2.665, "m": 69.3, "s": 69.3}, {"t": 2.673, "m": 54.9, "s": 54.9}, {"t": 2.684, "m": 68.5, "s": 68.5}, {"t": 2.703, "m": 72.6, "s": 72.6},
      {"t": 2.726, "m": 75.5, "s": 75.5}, {"t": 2.745, "m": 77.2, "s": 77.2}, {"t": 2.751, "m": 97.1, "s": 89.9}, {"t": 2.761, "m": 85, "s": 85}, {"t": 2.772, "m": 62.6, "s": 62.6}, {"t": 2.781, "m": 78.8, "s": 78.8}, {"t": 2.791, "m": 95.1, "s": 89.1}, {"t": 2.801, "m": 85, "s": 85},
      {"t": 2.812, "m": 64, "s": 64}, {"t": 2.822, "m": 76.7, "s": 76.7}, {"t": 2.841, "m": 72.6, "s": 72.6}, {"t": 2.85, "m": 93.2, "s": 89.5}, {"t": 2.86, "m": 88.3, "s": 88.3}, {"t": 2.88, "m": 85.8, "s": 85.8}, {"t": 2.893, "m": 64.2, "s": 64.2}, {"t": 2.903, "m": 63.2, "s": 63.2},
      {"t": 2.912, "m": 87, "s": 86.2}, {"t": 2.926, "m": 84.2, "s": 84.2}, {"t": 2.949, "m": 82.5, "s": 82.5}, {"t": 2.968, "m": 82.5, "s": 82.5}, {"t": 2.973, "m": 60.3, "s": 60.3}, {"t": 2.987, "m": 65.2, "s": 65.2}, {"t": 3.01, "m": 66, "s": 66}, {"t": 3.033, "m": 67.3, "s": 67.3},
      {"t": 3.044, "m": 67.7, "s": 67.7}, {"t": 3.052, "m": 89.1, "s": 87.4}, {"t": 3.064, "m": 82.9, "s": 82.9}, {"t": 3.073, "m": 64, "s": 64}, {"t": 3.083, "m": 76.7, "s": 76.7}, {"t": 3.093, "m": 90.1, "s": 87.7}, {"t": 3.102, "m": 82.9, "s": 82.9}, {"t": 3.114, "m": 65, "s": 65},
      {"t": 3.125, "m": 74.7, "s": 74.7}, {"t": 3.144, "m": 74.3, "s": 74.3}, {"t": 3.152, "m": 93.2, "s": 89.5}, {"t": 3.163, "m": 87, "s": 87}, {"t": 3.179, "m": 84.2, "s": 84.2}, {"t": 3.193, "m": 65.2, "s": 65.2}, {"t": 3.202, "m": 74.7, "s": 74.7}, {"t": 3.212, "m": 95.1, "s": 89.1},
      {"t": 3.221, "m": 85, "s": 85}, {"t": 3.232, "m": 81.7, "s": 81.7}, {"t": 3.244, "m": 81.3, "s": 81.3}, {"t": 3.259, "m": 80.5, "s": 80.5}, {"t": 3.267, "m": 78.8, "s": 78.8}
    ]
  },
  "vconcat": [
    {
      "width": 1860,
      "height": 484,
      "data": {"name": "duty"},
      "mark": {"type": "line", "interpolate": "step-after", "color": "#0072BD", "strokeWidth": 5.5, "clip": false},
      "encoding": {
        "x": {
          "field": "t",
          "type": "quantitative",
          "scale": {"domain": [0, 3.5], "nice": false, "zero": false},
          "axis": {"values": [0, 0.5, 1, 1.5, 2, 2.5, 3, 3.5], "labels": false, "title": null}
        },
        "y": {
          "field": "d",
          "type": "quantitative",
          "scale": {"domain": [0.6, 0.8], "nice": false, "zero": false},
          "axis": {"values": [0.6, 0.65, 0.7, 0.75, 0.8], "format": ".2~f", "title": "Duty Ratio D", "titleX": -104, "titleBaseline": "middle", "labelPadding": 25}
        }
      }
    },
    {
      "width": 1860,
      "height": 492,
      "encoding": {
        "x": {
          "field": "t",
          "type": "quantitative",
          "scale": {"domain": [0, 3.5], "nice": false, "zero": false},
          "axis": {"values": [0, 0.5, 1, 1.5, 2, 2.5, 3, 3.5], "labels": false, "title": null}
        },
        "y": {
          "field": "v",
          "type": "quantitative",
          "scale": {"domain": [40, 140], "nice": false, "zero": false},
          "axis": {"values": [40, 60, 80, 100, 120, 140], "format": "d", "title": "Output Voltage(V)", "titleX": -104, "titleBaseline": "middle", "labelPadding": 25}
        }
      },
      "layer": [
        {
          "data": {"name": "vin"},
          "mark": {"type": "line", "strokeWidth": 6, "clip": false},
          "encoding": {
            "color": {
              "datum": "input voltage",
              "type": "nominal",
              "scale": {"domain": ["input voltage", "output voltage"], "range": ["#0072BD", "#D95319"]},
              "legend": {"title": null, "orient": "none", "legendX": 1482, "legendY": 390}
            }
          }
        },
        {
          "data": {"name": "vout"},
          "mark": {"type": "line", "strokeWidth": 6, "clip": false},
          "encoding": {
            "color": {"datum": "output voltage", "type": "nominal"}
          }
        }
      ]
    },
    {
      "width": 1860,
      "height": 485,
      "encoding": {
        "x": {
          "field": "t",
          "type": "quantitative",
          "scale": {"domain": [0, 3.5], "nice": false, "zero": false},
          "axis": {"values": [0, 0.5, 1, 1.5, 2, 2.5, 3, 3.5], "format": ".1~f", "title": "Time(s)", "labelPadding": 30, "titlePadding": 4}
        },
        "y": {
          "field": "v",
          "type": "quantitative",
          "scale": {"domain": [40, 100], "nice": false, "zero": false},
          "axis": {"values": [40, 50, 60, 70, 80, 90, 100], "format": "d", "title": "Output Voltage(V)", "titleX": -104, "titleBaseline": "middle", "labelPadding": 25}
        }
      },
      "layer": [
        {
          "data": {"name": "fit"},
          "transform": [{"fold": ["m", "s"], "as": ["k", "v"]}],
          "mark": {"type": "line", "strokeWidth": 6, "clip": false},
          "encoding": {
            "color": {
              "field": "k",
              "type": "nominal",
              "scale": {"domain": ["m", "s"], "range": ["#0072BD", "#D95319"]},
              "legend": {
                "title": null,
                "orient": "none",
                "legendX": 1409,
                "legendY": 370,
                "labelExpr": "datum.label == 'm' ? 'measured output data' : 'simulated output data'"
              }
            }
          }
        },
        {
          "data": {"values": [{"t": 0.094, "v": 43.9, "label": "FIT"}]},
          "mark": {"type": "text", "align": "left", "baseline": "alphabetic", "font": "Liberation Serif", "fontSize": 66, "fontWeight": "bold", "fontStyle": "italic", "color": "#FF0000"},
          "encoding": {"text": {"field": "label", "type": "nominal"}}
        },
        {
          "data": {"values": [{"t": 0.337, "v": 43.9, "label": "= 90.72%"}]},
          "mark": {"type": "text", "align": "left", "baseline": "alphabetic", "font": "Liberation Serif", "fontSize": 66, "fontWeight": "bold", "color": "#FF0000"},
          "encoding": {"text": {"field": "label", "type": "nominal"}}
        }
      ]
    }
  ],
  "resolve": {
    "scale": {"color": "independent", "x": "independent", "y": "independent"},
    "legend": {"color": "independent"}
  }
}
